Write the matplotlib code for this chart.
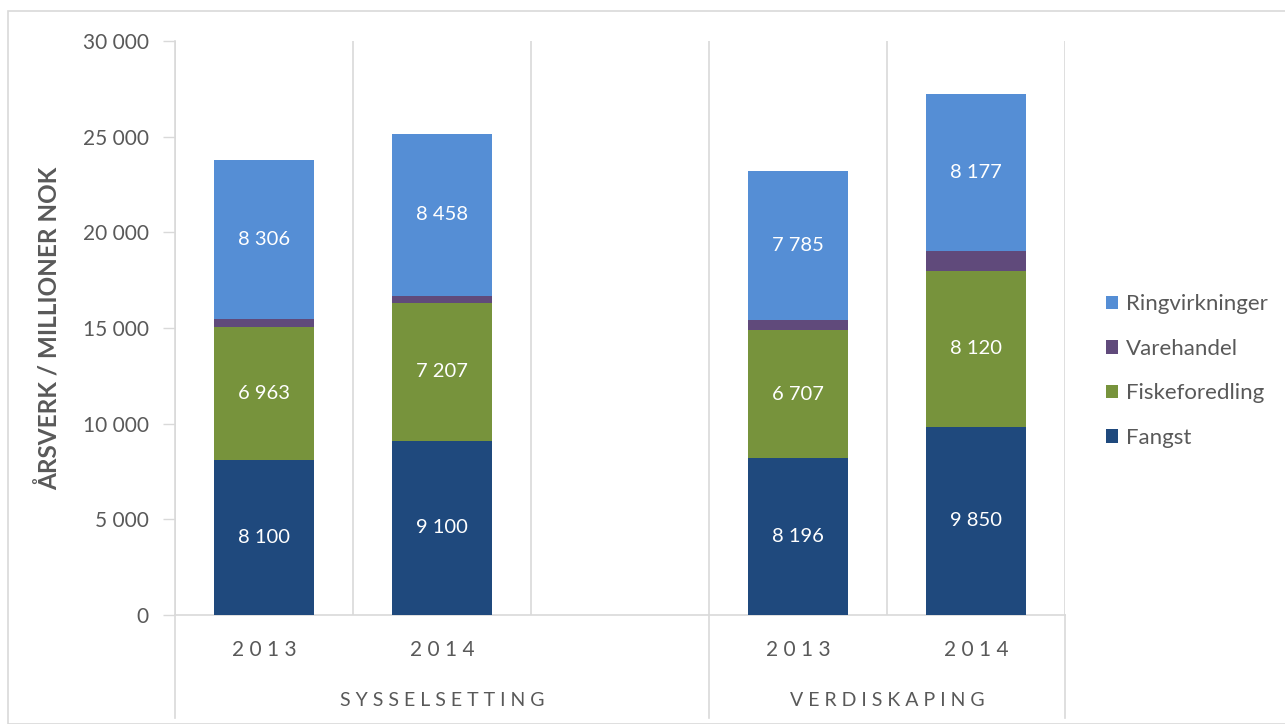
import matplotlib.pyplot as plt
import matplotlib.patches as mpatches
import matplotlib.transforms as mtransforms
import numpy as np

plt.rcParams['font.family'] = ['Lato', 'DejaVu Sans']

# data
years = ['2013', '2014', '', '2013', '2014']
groups = ['SYSSELSETTING', 'VERDISKAPING']
slots = [0, 1, 3, 4]   # slot 2 is left empty
fangst = [8100, 9100, 8196, 9850]
fiskeforedling = [6963, 7207, 6707, 8120]
varehandel = [400, 370, 500, 1060]
ringvirkninger = [8306, 8458, 7785, 8177]

series = [('Fangst', fangst, '#1F497D', True),
          ('Fiskeforedling', fiskeforedling, '#77933C', True),
          ('Varehandel', varehandel, '#604A7B', False),
          ('Ringvirkninger', ringvirkninger, '#558ED5', True)]

grey = '#595959'
line_grey = '#D9D9D9'

fig = plt.figure(figsize=(12.85, 7.24), dpi=100)
ax = fig.add_axes([175/1285, 1-615/724, 890/1285, 574/724])

# outer chart border
fig.patches.append(mpatches.Rectangle((8/1285, 0), 1.1, 1-11/724, transform=fig.transFigure,
                                      fill=False, edgecolor=line_grey, linewidth=1.2))

bottom = np.zeros(len(slots))
handles = []
for name, vals, col, show in series:
    vals = np.array(vals, dtype=float)
    bars = ax.bar(slots, vals, width=0.56, bottom=bottom, color=col, label=name, zorder=3)
    handles.append(bars)
    if show:
        for x, b, v in zip(slots, bottom, vals):
            ax.text(x, b + v/2, f'{int(v):,}'.replace(',', ' '), ha='center', va='center',
                    color='white', fontsize=14.5, zorder=4)
    bottom += vals

ax.set_xlim(-0.5, 4.5)
ax.set_ylim(0, 30000)
ax.set_yticks(np.arange(0, 30001, 5000))
ax.set_yticklabels([f'{v:,}'.replace(',', ' ') for v in range(0, 30001, 5000)])
ax.tick_params(axis='y', colors=grey, labelsize=15, length=9, width=1, direction='out', pad=10)
ax.tick_params(axis='y', color=line_grey)
ax.tick_params(axis='x', length=0, labelsize=15, colors=grey, pad=18)
ax.set_xticks(range(5))
ax.set_xticklabels([' '.join(y) for y in years])

for s in ['top', 'right']:
    ax.spines[s].set_visible(False)
ax.spines['left'].set_color(line_grey)
ax.spines['bottom'].set_color(line_grey)
ax.spines['left'].set_linewidth(1.2)
ax.spines['bottom'].set_linewidth(1.2)

# vertical gridlines between categories
for x in np.arange(-0.5, 5, 1):
    ax.axvline(x, color=line_grey, linewidth=1.2, zorder=1)

# group separators below the axis
trans = mtransforms.blended_transform_factory(ax.transData, ax.transAxes)
for x in [-0.5, 2.5, 4.5]:
    ax.plot([x, x], [0, -0.18], color=line_grey, linewidth=1.2, transform=trans, clip_on=False)
for g, x in zip(groups, [1, 3.5]):
    ax.text(x, -0.149, ' '.join(g), transform=trans, ha='center', va='center',
            fontsize=14, color=grey)

ax.set_ylabel('ÅRSVERK / MILLIONER NOK', fontsize=17.5, fontweight='bold', color=grey, labelpad=15)

fig.legend(handles=handles[::-1], loc='center left', bbox_to_anchor=(1086/1285, 1-371/724),
           frameon=False, fontsize=16, labelcolor=grey, handlelength=0.55, handleheight=0.55,
           handletextpad=0.35, labelspacing=1.1)

fig.savefig('out.png', dpi=100)
